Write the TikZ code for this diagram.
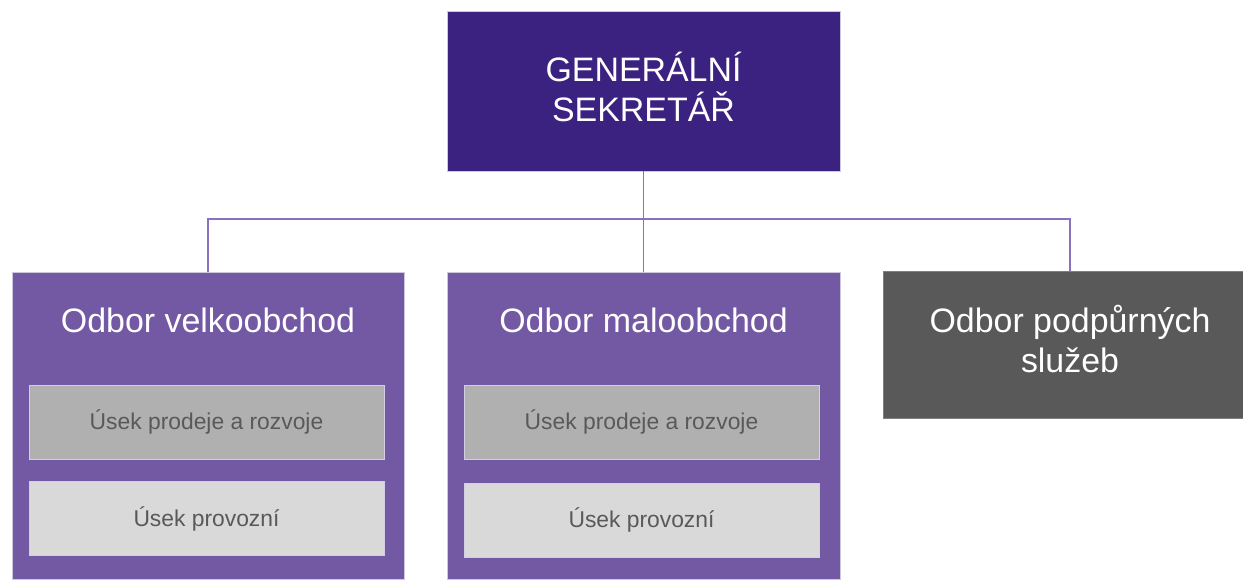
\documentclass[tikz,border=0pt]{standalone}
\usepackage{fontspec}
\setmainfont{Liberation Sans}
\definecolor{gsfill}{HTML}{3C2280}
\definecolor{odfill}{HTML}{7359A4}
\definecolor{linkcol}{HTML}{8A70C0}
\definecolor{psfill}{HTML}{595959}
\definecolor{usekdark}{HTML}{B0B0B0}
\definecolor{useklight}{HTML}{D9D9D9}
\begin{document}
\begin{tikzpicture}[x=0.02cm, y=-0.02cm,
    box/.style={draw=white!75!gsfill, line width=0.3pt, inner sep=0pt},
    bigtext/.style={align=center, text=white, font=\fontsize{19.3}{22.4}\selectfont},
    usek/.style={draw=white!70!odfill, line width=0.3pt, inner sep=0pt, text=psfill,
      minimum width=7.1cm, minimum height=1.48cm, font=\fontsize{13}{15}\selectfont},
    link/.style={draw=linkcol, line width=0.9pt}]
     \useasboundingbox (0,0) rectangle (1243,579);
     \node[box, fill=gsfill, minimum width=7.86cm, minimum height=3.2cm] (gs) at (643.5,91) {};
     \node[box, fill=odfill, minimum width=7.84cm, minimum height=6.14cm] (vo) at (208,425.5) {};
     \node[box, fill=odfill, minimum width=7.86cm, minimum height=6.14cm] (mo) at (643.5,425.5) {};
     \node[box, fill=psfill, draw=gray, minimum width=7.48cm, minimum height=2.94cm] (ps) at (1070,344.5) {};
     \node[bigtext] (gst) at (643.5,87) {GENERÁLNÍ\\SEKRETÁŘ};
     \node[bigtext] (pst) at (1070,339) {Odbor podpůrných\\služeb};
     \node[bigtext] (vot) at (208,320) {Odbor velkoobchod};
     \node[bigtext] (mot) at (643.5,320) {Odbor maloobchod};
     \node[usek, fill=usekdark] (vo1) at (206.5,422) {Úsek prodeje a rozvoje};
     \node[usek, fill=useklight] (vo2) at (206.5,518.5) {Úsek provozní};
     \node[usek, fill=usekdark] (mo1) at (641.5,422) {Úsek prodeje a rozvoje};
     \node[usek, fill=useklight] (mo2) at (641.5,520) {Úsek provozní};
     \coordinate (bus) at (643.5,219);
     \draw[link] (gs.south) -- (mo.north);
     \draw[link] (vo.north) |- (bus) -| (ps.north);
 \end{tikzpicture}
\end{document}
